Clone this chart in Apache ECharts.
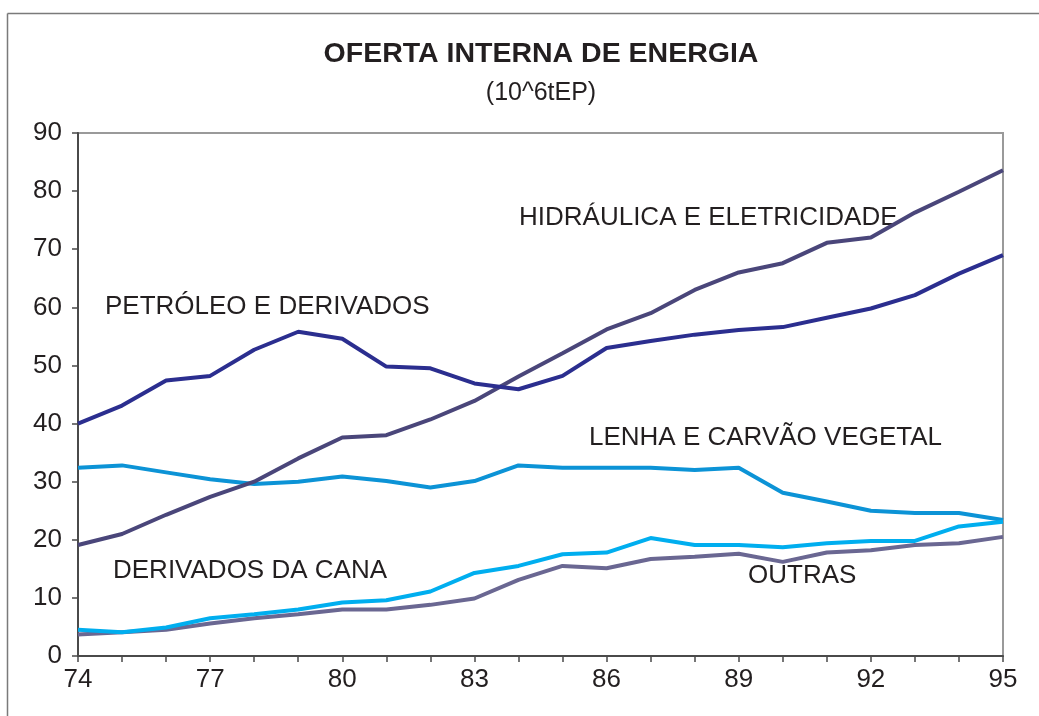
<!DOCTYPE html>
<html>
<head>
<meta charset="utf-8">
<script src="https://cdn.jsdelivr.net/npm/echarts@6/dist/echarts.min.js"></script>
<style>
  html, body { margin: 0; padding: 0; background: #fff; }
  #chart { width: 1039px; height: 716px; }
</style>
</head>
<body>
<div id="chart"></div>
<script>
// anos (eixo x)
const anos = ['74','75','76','77','78','79','80','81','82','83','84','85','86','87','88','89','90','91','92','93','94','95'];
// séries em 10^6 tEP
const petroleo = [40.0, 43.1, 47.4, 48.2, 52.7, 55.8, 54.6, 49.8, 49.5, 46.9, 45.9, 48.2, 53.0, 54.2, 55.3, 56.1, 56.6, 58.2, 59.8, 62.1, 65.8, 69.0];
const hidraulica = [19.1, 21.0, 24.3, 27.4, 30.0, 34.0, 37.6, 38.0, 40.7, 43.9, 48.1, 52.1, 56.2, 59.0, 63.0, 66.0, 67.6, 71.1, 72.0, 76.3, 79.9, 83.6];
const lenha = [32.4, 32.8, 31.6, 30.4, 29.6, 30.0, 30.9, 30.1, 29.0, 30.1, 32.8, 32.4, 32.4, 32.4, 32.0, 32.4, 28.1, 26.6, 25.0, 24.6, 24.6, 23.4];
const cana = [4.5, 4.1, 4.9, 6.5, 7.2, 8.0, 9.2, 9.6, 11.1, 14.3, 15.5, 17.5, 17.8, 20.3, 19.1, 19.1, 18.7, 19.4, 19.8, 19.8, 22.3, 23.1];
const outras = [3.7, 4.1, 4.5, 5.6, 6.5, 7.2, 8.0, 8.0, 8.8, 9.9, 13.1, 15.5, 15.1, 16.7, 17.1, 17.6, 16.2, 17.8, 18.2, 19.1, 19.4, 20.5];

const txt = '#231F20';
const fonte = 'Liberation Sans, Arial, Helvetica, sans-serif';

function linha(nome, dados, cor) {
  return {
    name: nome,
    type: 'line',
    data: dados,
    symbol: 'none',
    lineStyle: { color: cor, width: 4 },
    itemStyle: { color: cor },
    animation: false
  };
}

function rotulo(texto, x, y) {
  return {
    type: 'text',
    left: x,
    top: y,
    style: { text: texto, fill: txt, font: '26px ' + fonte }
  };
}

const myChart = echarts.init(document.getElementById('chart'));
myChart.setOption({
  animation: false,
  backgroundColor: '#fff',
  title: {
    text: 'OFERTA INTERNA DE ENERGIA',
    subtext: '(10^6tEP)',
    left: 536,
    textAlign: 'center',
    top: 35,
    itemGap: 12,
    textStyle: { color: txt, fontFamily: fonte, fontSize: 28.5, fontWeight: 'bold' },
    subtextStyle: { color: txt, fontFamily: fonte, fontSize: 25 }
  },
  grid: {
    left: 78, right: 36, top: 133, bottom: 60,
    show: true, borderColor: '#9a9a9a', borderWidth: 2
  },
  xAxis: {
    type: 'category',
    data: anos,
    boundaryGap: false,
    axisLine: { lineStyle: { color: '#4a4a4a', width: 2 } },
    axisTick: { interval: 0, length: 6, inside: false, lineStyle: { color: '#4a4a4a', width: 1.5 } },
    axisLabel: { interval: 2, color: txt, fontFamily: fonte, fontSize: 26, margin: 11 },
    splitLine: { show: false }
  },
  yAxis: {
    type: 'value',
    min: 0, max: 90, interval: 10,
    axisLine: { show: true, lineStyle: { color: '#4a4a4a', width: 2 } },
    axisTick: { show: true, length: 6, lineStyle: { color: '#4a4a4a', width: 1.5 } },
    axisLabel: { color: txt, fontFamily: fonte, fontSize: 26, margin: 16 },
    splitLine: { show: false }
  },
  series: [
    linha('LENHA E CARVÃO VEGETAL', lenha, '#0C93D6'),
    linha('OUTRAS', outras, '#6A6792'),
    linha('DERIVADOS DA CANA', cana, '#00AEEF'),
    linha('HIDRÁULICA E ELETRICIDADE', hidraulica, '#4A467A'),
    linha('PETRÓLEO E DERIVADOS', petroleo, '#2B2E8F')
  ],
  graphic: [
    // moldura externa (cortada à direita e embaixo)
    { type: 'line', shape: { x1: 7.5, y1: 13.5, x2: 1039, y2: 13.5 }, style: { stroke: '#7a7a7a', lineWidth: 1.5 } },
    { type: 'line', shape: { x1: 7.5, y1: 13.5, x2: 7.5, y2: 716 }, style: { stroke: '#7a7a7a', lineWidth: 1.5 } },
    rotulo('PETRÓLEO E DERIVADOS', 105, 294),
    rotulo('HIDRÁULICA E ELETRICIDADE', 519, 205),
    rotulo('LENHA E CARVÃO VEGETAL', 589, 425),
    rotulo('DERIVADOS DA CANA', 113, 558),
    rotulo('OUTRAS', 748, 563)
  ]
});
</script>
</body>
</html>
